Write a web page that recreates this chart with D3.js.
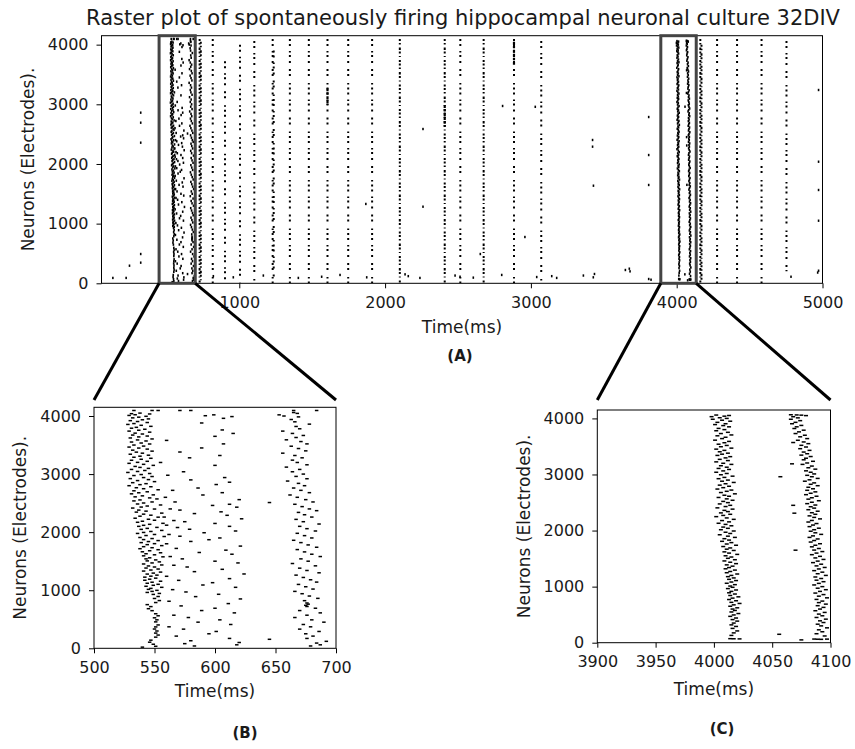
<!DOCTYPE html>
<html>
<head>
<meta charset="utf-8">
<script src="https://cdn.jsdelivr.net/npm/d3@7"></script>
<style>
  body { margin: 0; background: #fff; }
  svg { display: block; font-family: "DejaVu Sans", sans-serif; }
</style>
</head>
<body>
<svg id="fig" width="855" height="749"></svg>
<script>
// ---------------- data ----------------
const titleText = "Raster plot of spontaneously firing hippocampal neuronal culture 32DIV";
const xTicksA = [1000, 2000, 3000, 4000, 5000];
const xTicksB = [500, 550, 600, 650, 700];
const xTicksC = [3900, 3950, 4000, 4050, 4100];
const yTicks = [0, 1000, 2000, 3000, 4000];
const zoomB = [450, 698];    // time window outlined in (A) and shown in (B)
const zoomC = [3891, 4134];  // time window outlined in (A) and shown in (C)

// Burst columns of the full recording: [time ms, top neuron, bottom neuron]
const denseColumns = [[728,4096,0],[736,4050,30],[2101,4096,0],[2409,4096,0],[2676,4096,0],[4162,4096,0],[4170,4000,40]];
const sparseColumns = [[818,4096,0],[902,3720,0],[1005,4000,0],[1103,4060,0],[1229,4096,0],[1236,3900,100],
  [1347,4096,0],[1477,4096,0],[1605,4096,0],[1747,4096,0],[1911,4096,0],[2516,4096,0],[2884,4096,0],
  [3071,4060,0],[4277,4096,0],[4414,4096,0],[4582,4096,0],[4753,4060,200]];
const heavyRuns = [[1605,3270,2990],[2409,2990,2625],[2884,4050,3660]];

// Isolated spikes outside the bursts: [time ms, neuron]
const isolatedSpikes = [[133,90],[224,90],[247,295],[324,2860],[324,2692],[324,2357],[324,491],[324,346],
  [1868,1330],[2260,2586],[2260,1284],[2806,2972],[3030,2958],[2959,776],[2653,491],[3423,2402],[3423,2290],
  [3429,1636],[3436,156],[3648,223],[3675,245],[3808,2787],[3808,2150],[3808,1648],[3808,72],
  [4973,3240],[4973,2038],[4973,1564],[4973,1049],[4973,211],
  [822,120],[959,100],[1165,130],[1405,90],[1565,110],[1691,140],[1874,100],[2137,150],[2159,120],
  [2239,90],[2480,130],[2514,110],[2605,95],[2800,140],[3040,105],[3143,120],[3177,90],[3360,130],
  [3428,100],[3680,200],[3824,60],[4784,110],[4967,180]];

// Spikes 500-700 ms: [neuron, time ms]
const burstB1 = [[4095,533],[4095,548],[4095,553],
  [4050,538],[4040,531],[4035,546],[4022,534],[4010,529],[3995,543],[3980,537],[3968,532],[3950,545],[3935,540],[3920,530],[3905,536],
  [3888,544],[3870,533],[3855,528],[3840,539],[3822,547],[3805,535],[3790,531],[3772,542],[3755,537],[3740,529],[3722,546],[3705,534],[3690,540],[3672,532],[3655,544],[3640,537],[3622,530],[3605,548],
  [3588,536],[3570,543],[3552,531],[3535,539],[3518,546],[3500,533],[3482,541],[3465,529],[3448,537],[3430,544],[3412,532],[3395,548],[3378,535],[3360,540],[3342,530],[3325,545],[3308,538],
  [3290,533],[3272,547],[3255,539],[3238,531],[3220,544],[3202,536],[3185,529],[3168,541],[3150,549],[3132,534],[3115,538],[3098,545],[3080,531],[3062,542],[3045,536],[3028,528],[3010,546],
  [2992,539],[2975,533],[2958,548],[2940,541],[2922,530],[2905,545],[2888,536],[2870,550],[2852,532],[2835,543],[2818,538],[2800,529],[2782,547],[2765,535],[2748,541],[2730,553],[2712,533],
  [2695,544],[2678,537],[2660,531],[2642,549],[2625,540],[2608,534],[2590,546],[2572,552],[2555,538],[2538,533],[2520,548],[2502,541],[2485,536],[2468,555],[2450,544],[2432,539],[2415,532],
  [2398,550],[2380,537],[2362,543],[2345,535],[2328,556],[2310,541],[2292,547],[2275,538],[2258,553],[2240,534],[2222,545],[2205,550],[2188,540],[2170,536],[2152,557],[2135,546],[2118,541],
  [2100,537],[2082,552],[2065,544],[2048,539],[2030,556],[2012,547],[1995,541],[1978,536],[1960,550],[1942,543],[1925,558],[1908,538],[1890,548],[1872,541],[1855,553],[1838,545],[1820,539],
  [1802,550],[1785,544],[1768,556],[1750,541],[1732,548],[1715,538],[1698,553],[1680,546],[1662,540],[1645,555],[1628,543],[1610,550],[1592,541],[1575,557],[1558,546],[1540,543],[1522,551],
  [1505,544],[1488,554],[1470,548],[1452,541],[1435,556],[1418,545],[1400,550],[1382,543],[1365,553],[1348,547],[1330,541],[1312,555],[1295,549],[1278,544],[1260,552],[1242,547],[1225,542],
  [1208,551],[1190,546],[1172,542],[1155,555],[1138,548],[1120,544],[1102,553],[1085,549],[1068,543],[1050,556],[1032,547],[1015,545],[998,552],[980,548],[962,544],[945,554],[928,549],
  [892,553],[858,550],[822,554],[788,551],[752,544],[718,547],[682,545],[648,548],
  [595,551],[560,553],[525,550],[490,552],[455,551],[402,553],[368,551],[332,550],
  [298,552],[262,551],[228,553],[192,551],[140,547],[105,546],[70,549],[35,551],[20,540]];
const scatterB = [[4095,571],[4095,580],
  [4020,599],[4005,592],[3990,614],[3960,607],[3880,589],[3760,606],[3700,615],[3650,600],[3580,560],[3520,607],[3450,589],[3380,571],[3320,604],[3280,579],[3200,555],[3150,600],[3040,574],[2980,561],[2940,608],[2900,580],[2860,612],[2820,601],[2760,586],[2720,565],[2680,606],[2640,590],[2600,559],[2560,620],[2520,567],[2480,612],[2460,598],[2430,618],[2400,563],[2380,571],[2350,605],[2320,583],[2290,610],[2260,558],[2230,622],[2200,566],[2180,575],[2150,600],[2120,560],[2100,612],[2080,569],[2050,579],[2020,617],[1990,591],[1960,562],[1930,571],[1900,604],[1870,595],[1840,580],[1800,560],[1760,621],[1720,568],[1690,609],[1650,587],[1620,614],[1580,563],[1540,573],[1500,600],[1470,619],[1430,566],[1400,577],[1360,606],[1320,583],[1280,624],[1240,560],[1200,612],[1170,570],[1130,598],[1090,590],[1050,617],[1010,565],[970,576],[930,603],[890,584],[850,621],[810,562],[770,611],[730,572],[690,600],[650,589],[610,616],[570,566],[530,578],[490,604],[450,586],[410,613],[370,562],[330,574],[290,601],[250,595],[210,568],[170,612],[130,580],[100,620],[80,575],[60,618],[40,583],[2510,645],[155,645]];
const burstB2 = [[4095,665],[4095,684],[4060,665],[4045,668],[4020,653],[4000,657],[3985,669],[3940,663],[3900,666],[3860,678],[3820,667],[3780,670],[3740,656],[3700,664],[3665,673],[3630,667],[3590,659],[3560,671],[3520,676],[3480,663],[3440,669],[3400,675],[3360,656],[3320,666],[3280,672],[3240,664],[3200,668],[3160,676],[3120,659],[3080,670],[3040,664],[3000,673],[2960,667],[2920,676],[2880,660],[2840,669],[2800,674],[2760,665],[2720,671],[2680,678],[2640,662],[2600,668],[2560,675],[2520,681],[2480,666],[2440,672],[2400,678],[2370,684],[2340,669],[2300,674],[2260,680],[2220,667],[2180,673],[2140,686],[2100,670],[2060,676],[2020,683],[1980,668],[1940,674],[1900,680],[1860,665],[1820,671],[1780,677],[1740,684],[1700,668],[1660,674],[1620,680],[1580,687],[1540,671],[1500,677],[1460,664],[1420,683],[1380,670],[1340,676],[1300,686],[1260,667],[1220,673],[1180,679],[1140,684],[1100,669],[1060,675],[1020,681],[980,666],[940,672],[900,678],[860,685],[820,674],[780,676],[760,677],[740,675],[720,676],[690,683],[650,670],[610,687],[570,676],[530,666],[490,680],[450,690],[410,673],[370,679],[330,670],[290,686],[250,675],[210,681],[170,676],[120,692],[90,684],[60,687],[40,679]];

// Spikes 3900-4100 ms: [neuron, time ms]
const burstC1 = [[4060,4002],[4052,4013],[4040,4009],[4031,3998],[4012,4005],[4000,4011],[3985,3999],[3968,4007],[3950,4014],[3930,4003],[3905,4010],[3890,4001],[3872,4008],[3850,4013],[3822,4004],[3800,4009],[3780,4002],[3752,4012],[3730,4006],[3705,4015],[3690,4003],[3664,4010],[3640,4007],[3612,4001],[3590,4013],[3566,4009],[3540,4004],[3518,4011],[3495,4006],[3470,4015],[3452,4002],[3430,4009],[3405,4005],[3380,4012],[3362,4007],[3340,4003],[3318,4014],[3296,4010],[3270,4005],[3248,4012],[3225,4002],[3200,4008],[3180,4015],[3156,4006],[3130,4011],[3108,4004],[3090,4013],[3064,4008],[3040,4002],[3018,4011],[2995,4006],[2970,4016],[2948,4009],[2925,4004],[2900,4012],[2880,4007],[2858,4017],[2835,4010],[2810,4005],[2790,4013],[2765,4008],[2740,4003],[2722,4015],[2700,4011],[2678,4006],[2655,4018],[2630,4009],[2612,4013],[2590,4004],[2565,4011],[2540,4016],[2520,4008],[2498,4012],[2475,4005],[2450,4014],[2428,4010],[2405,4003],[2382,4016],[2360,4009],[2338,4012],[2315,4006],[2290,4014],[2270,4008],[2248,4002],[2225,4011],[2200,4017],[2178,4007],[2155,4013],[2130,4004],[2110,4010],[2085,4015],[2062,4008],[2040,4012],[2015,4006],[1992,4017],[1970,4010],[1948,4014],[1925,4005],[1900,4012],[1878,4018],[1855,4009],[1830,4013],[1808,4007],[1785,4015],[1760,4011],[1738,4019],[1715,4008],[1690,4014],[1668,4011],[1645,4017],[1620,4009],[1598,4013],[1575,4020],[1550,4010],[1528,4015],[1505,4012],[1480,4018],[1458,4009],[1435,4014],[1410,4019],[1388,4011],[1365,4016],[1340,4013],[1318,4010],[1295,4018],[1270,4014],[1248,4011],[1225,4020],[1200,4015],[1178,4012],[1155,4017],[1130,4013],[1108,4019],[1082,4015],[1060,4011],[1035,4018],[1010,4014],[988,4016],[965,4012],[940,4019],[915,4015],[890,4013],[868,4018],[842,4014],[818,4021],[795,4016],[770,4013],[748,4019],[720,4015],[700,4022],[675,4017],[650,4014],[622,4020],[600,4016],[575,4018],[548,4015],[520,4021],[495,4017],[470,4014],[440,4019],[412,4016],[385,4020],[350,4017],[318,4015],[290,4019],[255,4016],[210,4020],[175,4017],[130,4015],[72,4014],[70,4017],[68,4022]];
const burstC2 = [[4065,4066],[4062,4071],[4058,4075],[4050,4079],[4030,4068],[4010,4072],[3985,4066],[3960,4074],[3930,4070],[3905,4067],[3875,4075],[3850,4071],[3820,4069],[3790,4077],[3760,4073],[3730,4070],[3700,4078],[3672,4074],[3640,4080],[3610,4072],[3580,4077],[3550,4081],[3520,4075],[3490,4079],[3460,4074],[3430,4082],[3400,4077],[3370,4080],[3345,4075],[3320,4083],[3290,4079],[3262,4077],[3235,4085],[3205,4080],[3180,4076],[3150,4084],[3120,4081],[3095,4087],[3065,4079],[3040,4083],[3010,4086],[2985,4080],[2960,4084],[2930,4089],[2905,4082],[2880,4078],[2850,4086],[2825,4083],[2800,4089],[2772,4081],[2745,4085],[2718,4080],[2690,4087],[2665,4083],[2640,4079],[2612,4088],[2585,4084],[2560,4081],[2532,4090],[2505,4084],[2480,4080],[2455,4087],[2425,4083],[2400,4086],[2372,4081],[2345,4089],[2318,4084],[2290,4087],[2262,4082],[2235,4086],[2208,4091],[2180,4084],[2152,4081],[2125,4088],[2098,4085],[2070,4082],[2042,4090],[2015,4086],[1988,4083],[1960,4087],[1932,4092],[1905,4085],[1878,4082],[1850,4089],[1822,4086],[1795,4083],[1765,4091],[1738,4087],[1710,4084],[1680,4090],[1652,4086],[1625,4093],[1598,4088],[1570,4084],[1540,4091],[1512,4087],[1485,4094],[1455,4089],[1428,4085],[1400,4092],[1370,4088],[1342,4095],[1315,4090],[1285,4086],[1258,4093],[1230,4089],[1200,4096],[1172,4087],[1145,4092],[1115,4088],[1088,4094],[1058,4090],[1030,4086],[1000,4093],[972,4089],[945,4096],[915,4091],[885,4087],[858,4094],[830,4090],[800,4097],[772,4088],[742,4093],[715,4090],[688,4096],[660,4089],[630,4094],[600,4091],[570,4087],[540,4095],[510,4090],[480,4093],[450,4088],[420,4096],[390,4091],[360,4094],[330,4089],[300,4092],[265,4097],[230,4090],[195,4093],[160,4088],[120,4095],[65,4086],[62,4089],[60,4092],[64,4097]];
const scatterC = [[2960,4057],[3570,4068],[3190,4067],[2450,4068],[2310,4069],[1650,4070],[150,4056],[50,4075]];

// ---------------- layout ----------------
const svg = d3.select("#fig");
const ink = "#000";
const textInk = "#1a1a1a";

const A = { left: 101.5, right: 822.5, top: 35.7, bottom: 283.3 };
const B = { left: 94, right: 336, top: 407.3, bottom: 648.3 };
const C = { left: 597.3, right: 830.5, top: 410, bottom: 642.7 };

const xA = d3.scaleLinear().domain([55, 5000]).range([A.left, A.right]);
const yA = d3.scaleLinear().domain([0, 4150]).range([A.bottom, A.top]);
const xB = d3.scaleLinear().domain([500, 700]).range([B.left, B.right]);
const yB = d3.scaleLinear().domain([0, 4150]).range([B.bottom, B.top]);
const xC = d3.scaleLinear().domain([3900, 4100]).range([C.left, C.right]);
const yC = d3.scaleLinear().domain([0, 4150]).range([C.bottom, C.top]);

const defs = svg.append("defs");
function clip(id, p) {
  defs.append("clipPath").attr("id", id).append("rect")
    .attr("x", p.left).attr("y", p.top)
    .attr("width", p.right - p.left).attr("height", p.bottom - p.top);
}
clip("clipA", A); clip("clipB", B); clip("clipC", C);

// axis helper in a matplotlib-like style
function drawAxes(p, x, y, xt, yt) {
  const gx = svg.append("g").attr("transform", `translate(0,${p.bottom})`)
    .call(d3.axisBottom(x).tickValues(xt).tickFormat(d3.format("d")).tickSize(5).tickPadding(8));
  const gy = svg.append("g").attr("transform", `translate(${p.left},0)`)
    .call(d3.axisLeft(y).tickValues(yt).tickFormat(d3.format("d")).tickSize(5).tickPadding(8));
  [gx, gy].forEach(g => {
    g.select(".domain").remove();
    g.selectAll(".tick line").attr("stroke", ink).attr("stroke-width", 1);
    g.selectAll(".tick text").attr("fill", textInk)
      .style("font-family", '"DejaVu Sans", sans-serif').style("font-size", "16px");
  });
  svg.append("rect").attr("x", p.left).attr("y", p.top)
    .attr("width", p.right - p.left).attr("height", p.bottom - p.top)
    .attr("fill", "none").attr("stroke", ink).attr("stroke-width", 1);
}

// ---------------- panel A ----------------
const gA = svg.append("g").attr("clip-path", "url(#clipA)");

function columnLines(data, cls, width, dash) {
  gA.selectAll("line." + cls).data(data).join("line").attr("class", cls)
    .attr("x1", d => xA(d[0])).attr("x2", d => xA(d[0]))
    .attr("y1", d => yA(d[1])).attr("y2", d => yA(d[2]))
    .attr("stroke", ink).attr("stroke-width", width)
    .attr("stroke-dasharray", dash);
}
columnLines(denseColumns, "dense", 2, "2,2,1.5,3,2.5,1.5,2,2.5,1,3,2,1.5");
columnLines(sparseColumns, "sparse", 2, "2,3,2,5,1.5,2.5,2,4,2,6,2,3,2,7,1.5,3");
columnLines(heavyRuns, "heavy", 2.2, "3,1,2.5,1.5,3,1");

const spikesA = [...burstB1, ...scatterB, ...burstB2, ...burstC1, ...burstC2, ...scatterC];
gA.selectAll("rect.spk").data(spikesA).join("rect").attr("class", "spk")
  .attr("x", d => xA(d[1]) - 0.8).attr("y", d => yA(d[0]) - 1.2)
  .attr("width", 1.6).attr("height", 2.4).attr("fill", ink);
gA.selectAll("rect.iso").data(isolatedSpikes).join("rect").attr("class", "iso")
  .attr("x", d => xA(d[0]) - 0.8).attr("y", d => yA(d[1]) - 1.2)
  .attr("width", 1.6).attr("height", 2.4).attr("fill", ink);

drawAxes(A, xA, yA, xTicksA, yTicks);

// ---------------- panels B and C ----------------
function drawZoom(p, x, y, clipId, sets, w) {
  const g = svg.append("g").attr("clip-path", `url(#${clipId})`);
  sets.forEach(s => {
    g.append("g").selectAll("rect").data(s).join("rect")
      .attr("x", d => x(d[1]) - w / 2).attr("y", d => y(d[0]) - 0.75)
      .attr("width", w).attr("height", 1.5).attr("fill", ink);
  });
}
drawZoom(B, xB, yB, "clipB", [burstB1, scatterB, burstB2], 3.5);
drawAxes(B, xB, yB, xTicksB, yTicks);
drawZoom(C, xC, yC, "clipC", [burstC1, burstC2, scatterC], 4);
drawAxes(C, xC, yC, xTicksC, yTicks);

// ---------------- zoom boxes and connectors ----------------
const connectorTop = 400;
[[zoomB, B], [zoomC, C]].forEach(([w, p]) => {
  const x0 = xA(w[0]), x1 = xA(w[1]);
  svg.append("rect").attr("x", x0).attr("y", A.top)
    .attr("width", x1 - x0).attr("height", A.bottom - A.top)
    .attr("fill", "none").attr("stroke", "#444").attr("stroke-width", 3);
  svg.append("line").attr("x1", x0).attr("y1", A.bottom).attr("x2", p.left).attr("y2", connectorTop)
    .attr("stroke", ink).attr("stroke-width", 3);
  svg.append("line").attr("x1", x1).attr("y1", A.bottom).attr("x2", p.right).attr("y2", connectorTop)
    .attr("stroke", ink).attr("stroke-width", 3);
});

// ---------------- texts ----------------
function label(x, y, txt, opts = {}) {
  const t = svg.append("text").attr("x", x).attr("y", y).text(txt)
    .attr("text-anchor", "middle").attr("fill", textInk)
    .style("font-size", (opts.size || 17) + "px")
    .style("font-weight", opts.bold ? "bold" : "normal");
  if (opts.rotate) t.attr("transform", `rotate(-90,${x},${y})`);
  return t;
}
label(463, 25, titleText, { size: 21 });
label((A.left + A.right) / 2, 333, "Time(ms)");
label(460, 361, "(A)", { size: 15, bold: true });
label(34, (A.top + A.bottom) / 2, "Neurons (Electrodes).", { rotate: true });
label((B.left + B.right) / 2, 697, "Time(ms)");
label(245, 738, "(B)", { size: 15, bold: true });
label(26, (B.top + B.bottom) / 2, "Neurons (Electrodes).", { rotate: true });
label((C.left + C.right) / 2, 695, "Time(ms)");
label(722, 734, "(C)", { size: 15, bold: true });
label(530, (C.top + C.bottom) / 2, "Neurons (Electrodes).", { rotate: true });
</script>
</body>
</html>
